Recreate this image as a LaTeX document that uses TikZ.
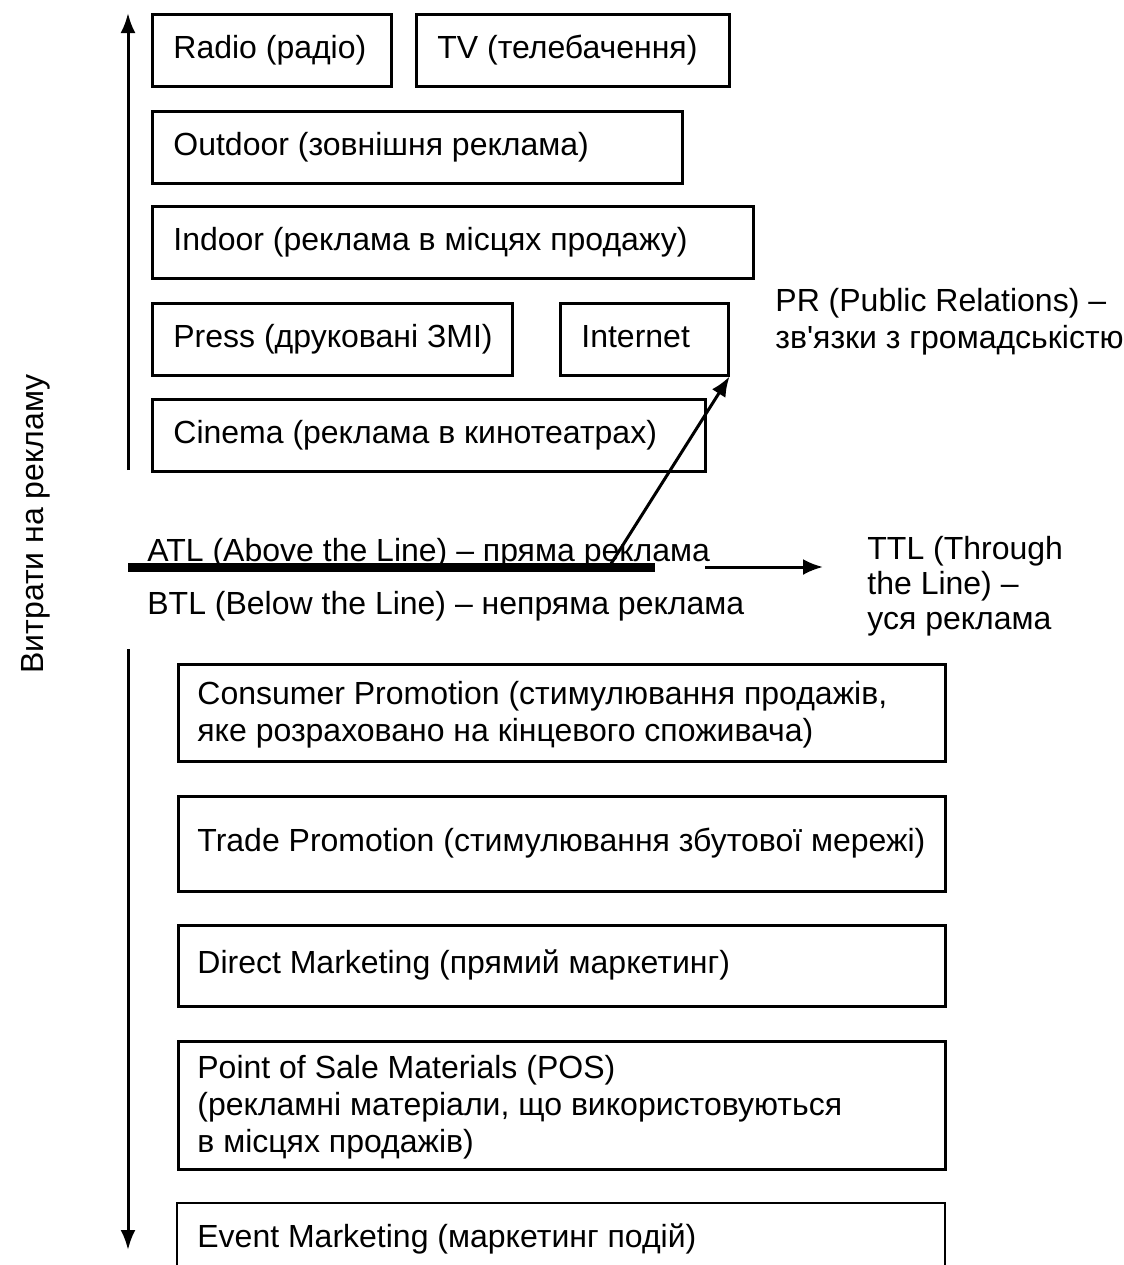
\documentclass[tikz,border=0pt]{standalone}
\usepackage{fontspec}
\setmainfont{Liberation Sans}
\usetikzlibrary{arrows.meta}
\begin{document}
\begin{tikzpicture}[x=0.5pt,y=-0.5pt,
  box/.style={draw, line width=1.25pt, anchor=north west, inner sep=0pt},
  openbox/.style={anchor=north west, inner sep=0pt},
  txt/.style={anchor=west, inner sep=0pt, align=left, font=\fontsize{16}{18.5}\selectfont},
  txtone/.style={txt, text height=11.6pt, text depth=3.4pt},
  lbl/.style={anchor=west, inner sep=0pt, align=left, font=\fontsize{16}{17.5}\selectfont},
  axis/.style={line width=1.5pt, -{Latex[length=10pt,width=7.5pt]}},
  thickline/.style={line width=4.5pt},
  conn/.style={line width=1.5pt, -{Latex[length=10pt,width=8pt]}}]
\useasboundingbox (0,0) rectangle (1124,1265);

% upper boxes
\node[box, minimum width=119.5pt, minimum height=36pt] (radio) at (151,13) {};
\node[txtone] at ([xshift=11pt]radio.west) {Radio (радіо)};
\node[box, minimum width=156.5pt, minimum height=36pt] (tv) at (415,13) {};
\node[txtone] at ([xshift=11pt]tv.west) {TV (телебачення)};
\node[box, minimum width=265pt, minimum height=36pt] (outdoor) at (151,110) {};
\node[txtone] at ([xshift=11pt]outdoor.west) {Outdoor (зовнішня реклама)};
\node[box, minimum width=300.5pt, minimum height=36pt] (indoor) at (151,205) {};
\node[txtone] at ([xshift=11pt]indoor.west) {Indoor (реклама в місцях продажу)};
\node[box, minimum width=180pt, minimum height=36pt] (press) at (151,302) {};
\node[txtone] at ([xshift=11pt]press.west) {Press (друковані ЗМІ)};
\node[box, minimum width=84pt, minimum height=36pt] (internet) at (559,302) {};
\node[txtone] at ([xshift=11pt]internet.west) {Internet};
\node[box, minimum width=276.5pt, minimum height=36pt] (cinema) at (151,398) {};
\node[txtone] at ([xshift=11pt]cinema.west) {Cinema (реклама в кинотеатрах)};

% lower boxes
\node[box, minimum width=383.5pt, minimum height=48.5pt] (consumer) at (177,663) {};
\node[txt] at ([xshift=10pt,yshift=-1pt]consumer.west) {Consumer Promotion (стимулювання продажів,\\яке розраховано на кінцевого споживача)};
\node[box, minimum width=383.5pt, minimum height=47.5pt] (trade) at (177,795) {};
\node[txtone] at ([xshift=10pt]trade.west) {Trade Promotion (стимулювання збутової мережі)};
\node[box, minimum width=383.5pt, minimum height=40.5pt] (direct) at (177,924) {};
\node[txtone] at ([xshift=10pt]direct.west) {Direct Marketing (прямий маркетинг)};
\node[box, minimum width=383.5pt, minimum height=64pt] (pos) at (177,1040) {};
\node[txt] at ([xshift=10pt,yshift=-1pt]pos.west) {Point of Sale Materials (POS)\\(рекламні матеріали, що використовуються\\в місцях продажів)};
\node[openbox, minimum width=383.5pt, minimum height=40pt] (event) at (177,1203) {};
\draw[line width=1.25pt] ([yshift=-5pt]event.south west) -- (event.north west) -- (event.north east) -- ([yshift=-5pt]event.south east);
\node[txtone] at ([xshift=10pt,yshift=2pt]event.west) {Event Marketing (маркетинг подій)};

% axis label
\node[font=\fontsize{16}{18}\selectfont, rotate=90, inner sep=0pt] (ylabel) at (36,524) {Витрати на рекламу};

% axis arrows
\coordinate (upS) at (128,470);
\coordinate (upE) at (128,13);
\coordinate (dnS) at (128,649);
\coordinate (dnE) at (128,1250);
\draw[axis] (upS) -- (upE);
\draw[axis] (dnS) -- (dnE);

% the line
\coordinate (lineL) at (128,567);
\coordinate (lineR) at (655,567);
\coordinate (lineP) at (609,567);
\draw[thickline] (lineL) -- (lineR);
\draw[conn] (lineP) -- (internet.south east);

% TTL arrow
\coordinate (ttlS) at (705,567);
\coordinate (ttlE) at (823,567);
\draw[conn] (ttlS) -- (ttlE);

% labels
\node[txtone] (atl) at (147,553) {ATL (Above the Line) – пряма реклама};
\node[txtone] (btl) at (147,606) {BTL (Below the Line) – непряма реклама};
\node[lbl] (ttl) at (867,586) {TTL (Through\\the Line) –\\уся реклама};
\node[txt] (pr) at (775,322) {PR (Public Relations) –\\зв\textquotesingle язки з громадськістю};
\end{tikzpicture}
\end{document}
